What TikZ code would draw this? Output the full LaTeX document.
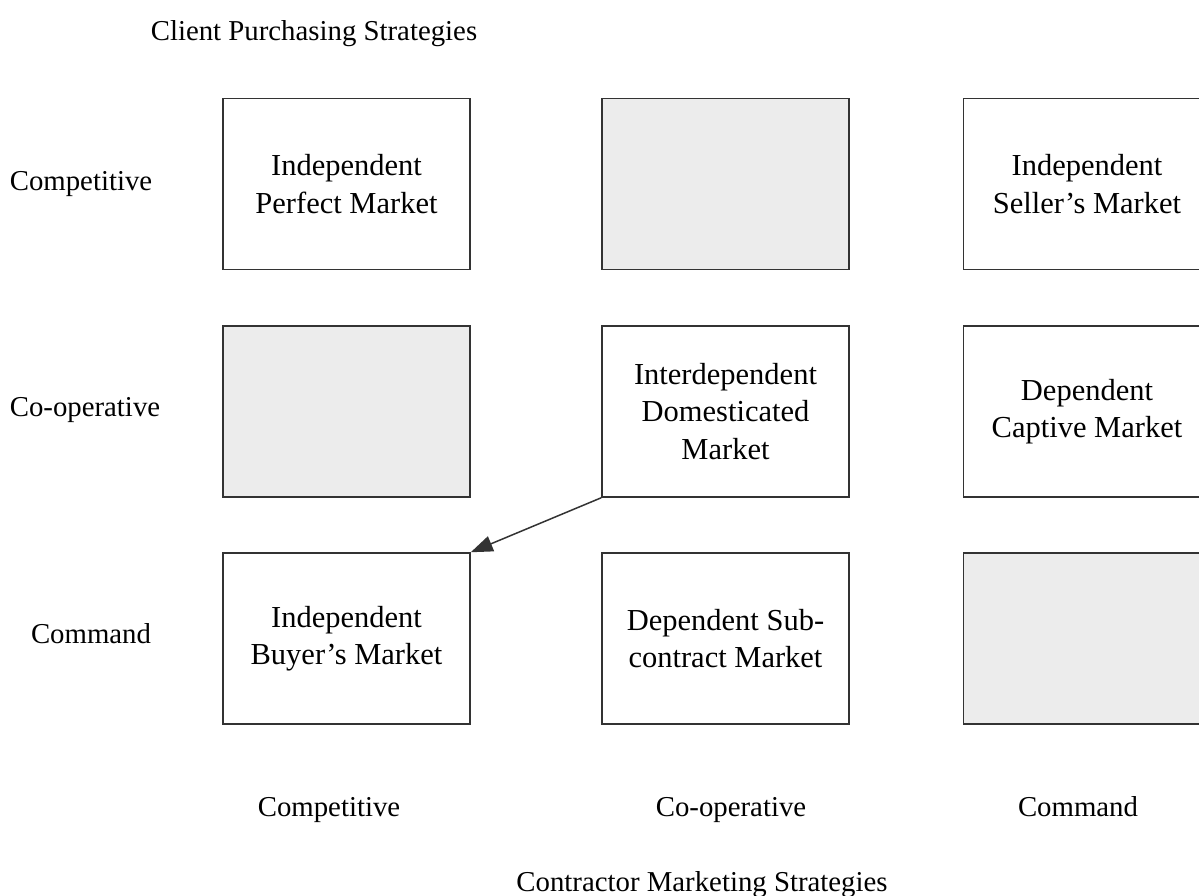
\documentclass[tikz,border=0pt]{standalone}
\usepackage{fontspec}
\setmainfont{Liberation Serif}
\usetikzlibrary{arrows.meta}
\definecolor{boxgray}{HTML}{ECECEC}
\definecolor{edge}{HTML}{333333}
\tikzset{
  cell/.style={draw=edge, line width=1.5pt, minimum width=247pt, minimum height=171pt,
    inner sep=0pt, align=center, font=\fontsize{30.5}{37.5}\selectfont},
  shaded/.style={cell, fill=boxgray},
  lab/.style={font=\fontsize{28.8}{34}\selectfont, inner sep=0pt, anchor=base},
  link/.style={draw=edge, line width=1.5pt, -{Triangle[length=22pt,width=16pt]}}
}
\begin{document}
\begin{tikzpicture}[x=1pt,y=-1pt]
\useasboundingbox (0,0) rectangle (1199,895);
\clip (0,0) rectangle (1199,895);
\node[lab] (title) at (314,40) {Client Purchasing Strategies};
\node[lab] (r1) at (81,190) {Competitive};
\node[lab] (r2) at (85,416.5) {Co-operative};
\node[lab] (r3) at (91,643) {Command};
\node[lab] (c1) at (329,816) {Competitive};
\node[lab] (c2) at (731,816) {Co-operative};
\node[lab] (c3) at (1078,816) {Command};
\node[lab] (xtitle) at (702,891) {Contractor Marketing Strategies};

\node[cell] (m11) at (346.5,184) {Independent\\Perfect Market};
\node[shaded] (m12) at (725.5,184) {};
\node[cell] (m13) at (1087,184) {Independent\\Seller's Market};
\node[shaded] (m21) at (346.5,411.5) {};
\node[cell] (m22) at (725.5,411.5) {Interdependent\\Domesticated\\Market};
\node[cell] (m23) at (1087,411.5) {Dependent\\Captive Market};
\node[cell] (m31) at (346.5,638.5) {Independent\\Buyer's Market};
\node[cell] (m32) at (725.5,638.5) {Dependent Sub-\\contract Market};
\node[shaded] (m33) at (1087,638.5) {};

\draw[link] (m22.south west) -- (m31.north east);
\end{tikzpicture}
\end{document}
